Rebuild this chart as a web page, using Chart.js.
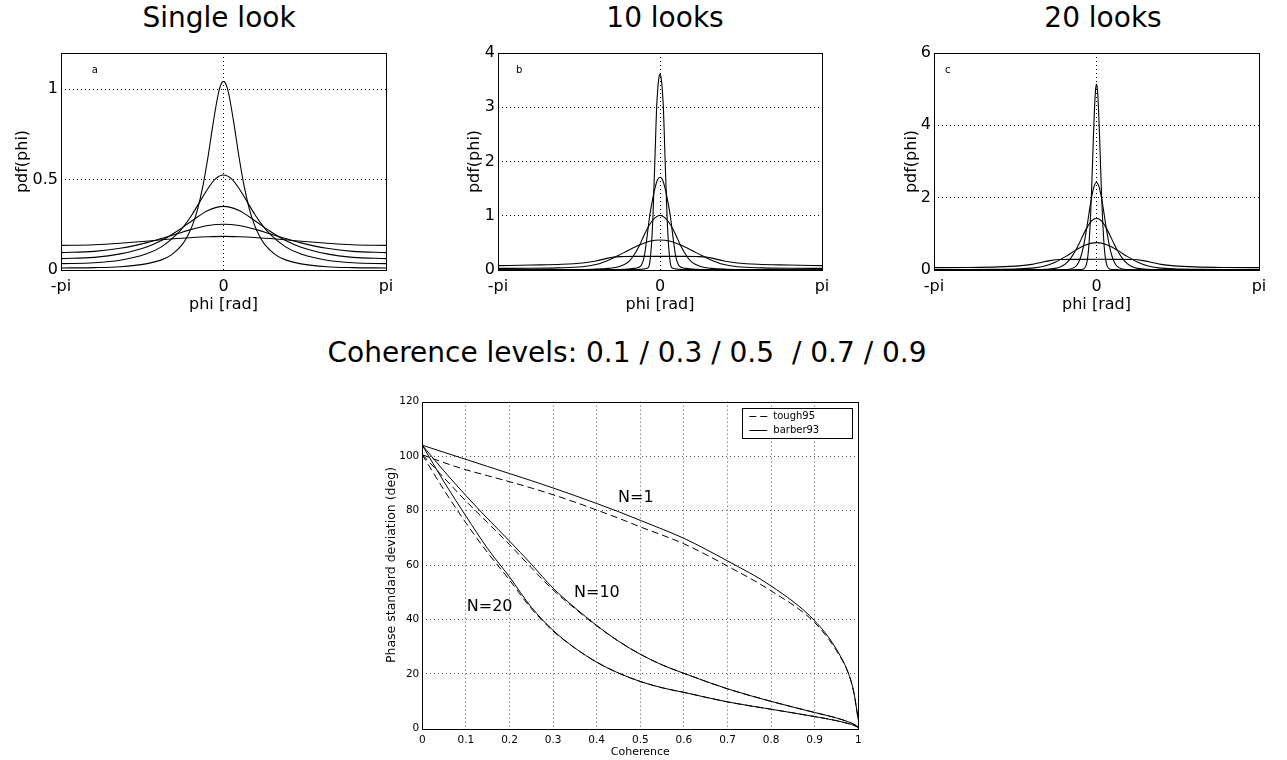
<!DOCTYPE html>
<html>
<head>
<meta charset="utf-8">
<title>Interferometric phase statistics</title>
<script src="https://cdn.jsdelivr.net/npm/chart.js@4.4.1/dist/chart.umd.min.js"></script>
<style>
  body { margin: 0; background: #fff; }
  #page { position: relative; width: 1287px; height: 760px; overflow: hidden; font-family: "DejaVu Sans", sans-serif; color: #000; }
  #page canvas { position: absolute; left: 0; top: 0; }
  .caption { position: absolute; font-size: 28px; line-height: 28px; white-space: pre; transform: translateX(-50%); }
</style>
</head>
<body>
<div id="page">
  <div class="caption" style="left:219px; top:4px">Single look</div>
  <div class="caption" style="left:665px; top:4px">10 looks</div>
  <div class="caption" style="left:1103px; top:4px">20 looks</div>
  <div class="caption" style="left:627px; top:339px">Coherence levels: 0.1 / 0.3 / 0.5  / 0.7 / 0.9</div>
  <canvas id="pdf-single" width="1287" height="760"></canvas>
  <canvas id="pdf-10" width="1287" height="760"></canvas>
  <canvas id="pdf-20" width="1287" height="760"></canvas>
  <canvas id="phase-std" width="1287" height="760"></canvas>
</div>
<script>
// Phase pdfs are symmetric about phi = 0, so only phi >= 0 is listed (rad)
// Single look, coherence 0.9 / 0.7 / 0.5 / 0.3 / 0.1
let phiA09 = [0, 0.05, 0.1, 0.2, 0.3, 0.4, 0.5, 0.6, 0.7, 0.8, 1.0, 1.2, 1.5, 2.0, 2.5, 3.1416];
let pdfA09 = [1.043, 1.026, 0.976, 0.812, 0.625, 0.462, 0.337, 0.248, 0.185, 0.140, 0.085, 0.056, 0.034, 0.018, 0.013, 0.011];
let phiA07 = [0, 0.15, 0.3, 0.45, 0.6, 0.75, 0.9, 1.2, 1.5, 2.0, 2.5, 3.1416];
let pdfA07 = [0.525, 0.505, 0.451, 0.381, 0.310, 0.248, 0.198, 0.128, 0.088, 0.054, 0.040, 0.035];
let phiAwide = [0, 0.3, 0.6, 0.9, 1.2, 1.5, 2.0, 2.5, 3.1416];
let pdfA05 = [0.352, 0.329, 0.274, 0.214, 0.163, 0.126, 0.089, 0.070, 0.063];
let pdfA03 = [0.253, 0.246, 0.226, 0.200, 0.174, 0.150, 0.120, 0.103, 0.096];
let pdfA01 = [0.186, 0.184, 0.180, 0.174, 0.167, 0.159, 0.148, 0.140, 0.136];

// 10 looks
let phiB09 = [0, 0.02, 0.04, 0.065, 0.08, 0.1, 0.12, 0.136, 0.15, 0.168, 0.19, 0.21, 0.25, 0.35, 0.6, 1.0, 3.1416];
let pdfB09 = [3.61, 3.55, 3.38, 3.0, 2.6, 2.0, 1.45, 1.0, 0.72, 0.43, 0.2, 0.08, 0.03, 0.015, 0.006, 0.003, 0.001];
let phiB07 = [0, 0.05, 0.1, 0.15, 0.2, 0.25, 0.3, 0.35, 0.4, 0.5, 0.7, 1.0, 1.5, 3.1416];
let pdfB07 = [1.71, 1.66, 1.50, 1.27, 1.0, 0.62, 0.28, 0.11, 0.055, 0.03, 0.012, 0.005, 0.002, 0.001];
let phiB05 = [0, 0.1, 0.2, 0.3, 0.4, 0.5, 0.6, 0.8, 1.0, 1.3, 1.8, 2.5, 3.1416];
let pdfB05 = [1.01, 0.96, 0.84, 0.66, 0.45, 0.28, 0.16, 0.06, 0.03, 0.015, 0.008, 0.005, 0.004];
let phiB03 = [0, 0.2, 0.4, 0.6, 0.8, 1.0, 1.2, 1.5, 2.0, 2.5, 3.1416];
let pdfB03 = [0.553, 0.53, 0.46, 0.37, 0.27, 0.18, 0.11, 0.06, 0.04, 0.032, 0.03];
let phiB01 = [0, 0.4, 0.7, 0.9, 1.05, 1.24, 1.5, 1.9, 2.5, 3.1416];
let pdfB01 = [0.252, 0.251, 0.248, 0.24, 0.21, 0.166, 0.13, 0.105, 0.092, 0.08];

// 20 looks
let phiC09 = [0, 0.02, 0.04, 0.06, 0.08, 0.1, 0.12, 0.14, 0.16, 0.18, 0.21, 0.25, 0.35, 0.6, 1.0, 3.1416];
let pdfC09 = [5.14, 4.95, 4.42, 3.67, 2.82, 2.01, 1.33, 0.82, 0.47, 0.25, 0.1, 0.03, 0.01, 0.003, 0.001, 0];
let phiC07 = [0, 0.05, 0.1, 0.15, 0.2, 0.25, 0.3, 0.35, 0.4, 0.5, 0.7, 1.0, 3.1416];
let pdfC07 = [2.42, 2.30, 1.97, 1.52, 1.06, 0.67, 0.38, 0.20, 0.10, 0.03, 0.008, 0.003, 0];
let phiC05 = [0, 0.1, 0.2, 0.3, 0.4, 0.5, 0.6, 0.7, 0.8, 1.0, 1.4, 2.0, 3.1416];
let pdfC05 = [1.43, 1.35, 1.13, 0.84, 0.55, 0.32, 0.17, 0.085, 0.045, 0.02, 0.008, 0.004, 0.002];
let phiC03 = [0, 0.2, 0.4, 0.6, 0.8, 1.0, 1.2, 1.5, 2.0, 2.5, 3.1416];
let pdfC03 = [0.756, 0.70, 0.55, 0.37, 0.215, 0.11, 0.06, 0.03, 0.018, 0.012, 0.01];
let phiC01 = [0, 0.4, 0.7, 0.9, 1.1, 1.25, 1.5, 1.9, 2.5, 3.1416];
let pdfC01 = [0.296, 0.295, 0.29, 0.26, 0.2, 0.155, 0.115, 0.086, 0.07, 0.065];

let phiTicks = [-Math.PI, 0, Math.PI];
let phiTickLabels = ["-pi", "0", "pi"];
let pdfTicksA = [0, 0.5, 1];
let pdfTicksB = [0, 1, 2, 3, 4];
let pdfTicksC = [0, 2, 4, 6];

// Phase standard deviation (deg) against coherence
let coherence = [0, 0.05, 0.1, 0.15, 0.2, 0.25, 0.3, 0.35, 0.4, 0.45, 0.5, 0.55, 0.6, 0.7, 0.8, 0.9, 0.95, 0.98, 0.99, 1];
let barberN1  = [104, 101.4, 98.8, 96.2, 93.6, 91.0, 88.3, 85.5, 82.6, 79.6, 76.4, 73.2, 69.8, 61.5, 52.3, 39.5, 29, 19, 13, 3];
let toughN1   = [100.5, 97.6, 95.0, 92.8, 90.6, 88.3, 85.8, 83.1, 80.2, 77.2, 74.0, 71.0, 67.8, 59.6, 50.5, 38.8, 28.5, 19, 13, 3];
let barberN10 = [104, 94.5, 85.5, 77, 68.8, 60.3, 51.5, 44.3, 37.8, 32.0, 27.2, 23.3, 20.2, 14.5, 9.9, 5.8, 3.8, 2.2, 1.5, 0.5];
let toughN10  = [100.5, 92, 83.5, 75.5, 67.5, 59, 50.8, 44, 37.6, 32.0, 27.2, 23.3, 20.2, 14.5, 9.9, 5.8, 3.8, 2.2, 1.5, 0.5];
let barberN20 = [104, 90.5, 78, 66, 55.6, 44.5, 36, 29.5, 24.3, 20.3, 17.2, 14.9, 13.2, 9.7, 7, 4.3, 2.8, 1.6, 1.1, 0.3];
let toughN20  = [100.5, 87.5, 75.5, 64.5, 54.5, 44, 35.7, 29.5, 24.3, 20.3, 17.2, 14.9, 13.2, 9.7, 7, 4.3, 2.8, 1.6, 1.1, 0.3];
let coherenceTicks = [0, 0.1, 0.2, 0.3, 0.4, 0.5, 0.6, 0.7, 0.8, 0.9, 1];
let stdTicks = [0, 20, 40, 60, 80, 100, 120];

Chart.defaults.font.family = '"DejaVu Sans", sans-serif';
Chart.defaults.color = "#000";

const W = 1287, H = 760;

// box round the plot area, drawn over the curves like the axes of a matlab figure
const framePlugin = {
  id: "frame",
  afterDatasetsDraw: (chart) => {
    const {ctx, chartArea: a} = chart;
    ctx.save();
    ctx.strokeStyle = "#000";
    ctx.lineWidth = 1;
    ctx.strokeRect(Math.round(a.left) + 0.5, Math.round(a.top) + 0.5,
      Math.round(a.right - a.left), Math.round(a.bottom - a.top));
    ctx.restore();
  }
};

const panelLetter = {
  id: "panelLetter",
  afterDraw: (chart, args, opts) => {
    if (!opts.text) return;
    const {ctx, chartArea} = chart;
    ctx.save();
    ctx.font = '10px "DejaVu Sans"';
    ctx.fillStyle = "#000";
    ctx.textBaseline = "middle";
    ctx.fillText(opts.text, chartArea.left + opts.dx, chartArea.top + opts.dy);
    ctx.restore();
  }
};

// text placed in data coordinates
const curveNotes = {
  id: "curveNotes",
  afterDatasetsDraw: (chart, args, opts) => {
    const {ctx, scales} = chart;
    ctx.save();
    ctx.font = '16px "DejaVu Sans"';
    ctx.fillStyle = "#000";
    ctx.textBaseline = "middle";
    opts.items.forEach((n) => {
      ctx.fillText(n.text, scales.x.getPixelForValue(n.x), scales.y.getPixelForValue(n.y));
    });
    ctx.restore();
  }
};

// boxed legend in the upper right corner of the plot area
const boxLegend = {
  id: "boxLegend",
  afterDraw: (chart, args, opts) => {
    const {ctx, chartArea} = chart;
    const left = chartArea.right - opts.inset - opts.width;
    const top = chartArea.top + opts.inset;
    ctx.save();
    ctx.fillStyle = "#fff";
    ctx.fillRect(left, top, opts.width, opts.height);
    ctx.strokeStyle = "#000";
    ctx.lineWidth = 1;
    ctx.strokeRect(Math.round(left) + 0.5, Math.round(top) + 0.5, opts.width, opts.height);
    ctx.font = '10px "DejaVu Sans"';
    ctx.fillStyle = "#000";
    ctx.textBaseline = "middle";
    opts.order.forEach((label, i) => {
      const ds = chart.data.datasets.find((d) => d.label === label);
      const y = Math.round(top + opts.rows[i]) + 0.5;
      ctx.setLineDash(ds.borderDash || []);
      ctx.beginPath();
      ctx.moveTo(left + 7, y);
      ctx.lineTo(left + 25, y);
      ctx.stroke();
      ctx.setLineDash([]);
      ctx.fillText(label, left + 31, y);
    });
    ctx.restore();
  }
};

const halfToFull = (phi, pdf) => {
  let pts = [];
  for (let i = phi.length - 1; i > 0; i--) pts.push({x: -phi[i], y: pdf[i]});
  for (let i = 0; i < phi.length; i++) pts.push({x: phi[i], y: pdf[i]});
  return pts;
};

const noPadding = (scale) => {
  scale.paddingTop = 0;
  scale.paddingBottom = 0;
  scale.paddingLeft = 0;
  scale.paddingRight = 0;
};

const pdfPanel = (canvasId, curves, yMax, yTicks, area, letter) => {
  new Chart(document.getElementById(canvasId), {
    type: "line",
    data: {
      datasets: curves.map(([phi, pdf]) => ({
        data: halfToFull(phi, pdf),
        borderColor: "#000",
        borderWidth: 1.1,
        pointRadius: 0,
        cubicInterpolationMode: "monotone",
      })),
    },
    plugins: [framePlugin, panelLetter],
    options: {
      responsive: false,
      animation: false,
      devicePixelRatio: 1,
      layout: {
        padding: {left: area.yTitleX - 9.6, top: area.top, right: W - area.right, bottom: H - 314.6},
      },
      scales: {
        x: {
          type: "linear",
          min: -Math.PI,
          max: Math.PI,
          afterBuildTicks: (s) => { s.ticks = phiTicks.map((v) => ({value: v})); },
          afterFit: (s) => { s.height = 44.6; noPadding(s); },
          ticks: {
            callback: (v, i) => phiTickLabels[i],
            padding: 7.4,
            maxRotation: 0,
            autoSkip: false,
            font: {size: 16},
          },
          grid: {
            drawTicks: false,
            color: (c) => (c.tick && c.tick.value === 0 ? "#000" : "rgba(0,0,0,0)"),
          },
          border: {display: false, dash: [1, 3]},
          title: {display: true, text: "phi [rad]", padding: 0, font: {size: 16}},
        },
        y: {
          type: "linear",
          min: 0,
          max: yMax,
          afterBuildTicks: (s) => { s.ticks = yTicks.map((v) => ({value: v})); },
          afterFit: (s) => { s.width = area.left - (area.yTitleX - 9.6); noPadding(s); },
          ticks: {padding: 3, font: {size: 16}, callback: (v) => `${v}`},
          grid: {
            drawTicks: false,
            color: (c) => (c.tick && c.tick.value > 0 && c.tick.value < yMax ? "#000" : "rgba(0,0,0,0)"),
          },
          border: {display: false, dash: [1, 3]},
          title: {display: true, text: "pdf(phi)", padding: 0, font: {size: 16}},
        },
      },
      plugins: {
        legend: {display: false},
        tooltip: {enabled: false},
        panelLetter: letter,
      },
    },
  });
};

pdfPanel("pdf-single",
  [[phiA09, pdfA09], [phiA07, pdfA07], [phiAwide, pdfA05], [phiAwide, pdfA03], [phiAwide, pdfA01]],
  1.2, pdfTicksA, {left: 61, right: 386, top: 53, yTitleX: 23.3}, {text: "a", dx: 30.7, dy: 17});

pdfPanel("pdf-10",
  [[phiB09, pdfB09], [phiB07, pdfB07], [phiB05, pdfB05], [phiB03, pdfB03], [phiB01, pdfB01]],
  4, pdfTicksB, {left: 498, right: 822, top: 53, yTitleX: 475}, {text: "b", dx: 18, dy: 17});

pdfPanel("pdf-20",
  [[phiC09, pdfC09], [phiC07, pdfC07], [phiC05, pdfC05], [phiC03, pdfC03], [phiC01, pdfC01]],
  6, pdfTicksC, {left: 934, right: 1259, top: 53, yTitleX: 912.3}, {text: "c", dx: 11, dy: 17});

//Phase standard deviation chart
const stdLine = (values, label, dash) => ({
  label: label,
  data: coherence.map((c, i) => ({x: c, y: values[i]})),
  borderColor: "#000",
  borderWidth: 1,
  borderDash: dash,
  pointRadius: 0,
  cubicInterpolationMode: "monotone",
});

const gridGray = (max) => (c) => (c.tick && c.tick.value > 0 && c.tick.value < max ? "#555" : "rgba(0,0,0,0)");

new Chart(document.getElementById("phase-std"), {
  type: "line",
  data: {
    datasets: [
      stdLine(barberN1, "barber93", []),
      stdLine(barberN10, "barber93", []),
      stdLine(barberN20, "barber93", []),
      stdLine(toughN1, "tough95", [7, 4]),
      stdLine(toughN10, "tough95", [7, 4]),
      stdLine(toughN20, "tough95", [7, 4]),
    ],
  },
  plugins: [framePlugin, curveNotes, boxLegend],
  options: {
    responsive: false,
    animation: false,
    devicePixelRatio: 1,
    layout: {padding: {left: 384.2, top: 401.7, right: W - 858.3, bottom: 1.7}},
    scales: {
      x: {
        type: "linear",
        min: 0,
        max: 1,
        afterBuildTicks: (s) => { s.ticks = coherenceTicks.map((v) => ({value: v})); },
        afterFit: (s) => { s.height = 30; noPadding(s); },
        ticks: {padding: 5.4, maxRotation: 0, autoSkip: false, font: {size: 10.5}, callback: (v) => `${v}`},
        grid: {drawTicks: false, color: gridGray(1)},
        border: {display: false, dash: [1, 3]},
        title: {display: true, text: "Coherence", padding: 0, font: {size: 11}},
      },
      y: {
        type: "linear",
        min: 0,
        max: 120,
        afterBuildTicks: (s) => { s.ticks = stdTicks.map((v) => ({value: v})); },
        afterFit: (s) => { s.width = 422.3 - 384.2; noPadding(s); },
        ticks: {padding: 3, font: {size: 10.5}, callback: (v) => `${v}`},
        grid: {drawTicks: false, color: gridGray(120)},
        border: {display: false, dash: [1, 3]},
        title: {display: true, text: "Phase standard deviation (deg)", padding: 0, font: {size: 12.5}},
      },
    },
    plugins: {
      legend: {display: false},
      tooltip: {enabled: false},
      curveNotes: {
        items: [
          {text: "N=1", x: 0.449, y: 84.6},
          {text: "N=10", x: 0.348, y: 49.8},
          {text: "N=20", x: 0.102, y: 44.7},
        ],
      },
      boxLegend: {order: ["tough95", "barber93"], inset: 6, width: 110, height: 30, rows: [8.5, 22.5]},
    },
  },
});
</script>
</body>
</html>
